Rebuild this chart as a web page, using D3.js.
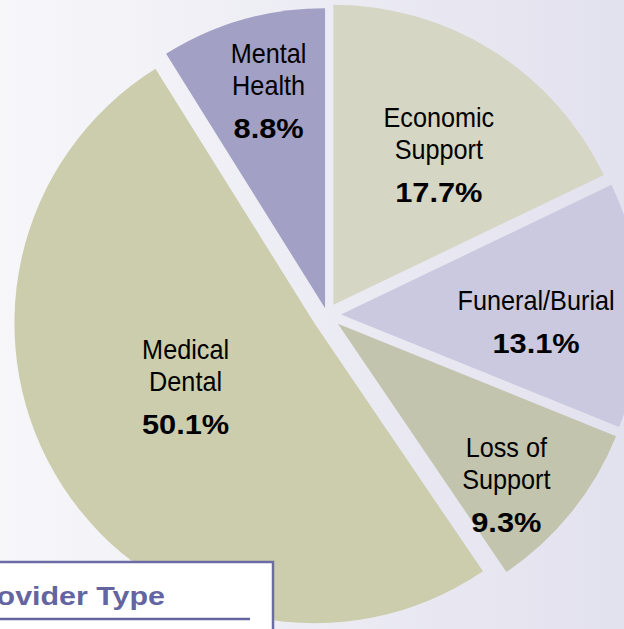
<!DOCTYPE html>
<html>
<head>
<meta charset="utf-8">
<script src="https://cdn.jsdelivr.net/npm/d3@7"></script>
<style>
  html, body { margin: 0; padding: 0; overflow: hidden; }
  svg { display: block; }
  text { font-family: "Liberation Sans", Arial, sans-serif; }
</style>
</head>
<body>
<div id="chart"></div>
<script>
// data
var categories = ["Economic Support", "Funeral/Burial", "Loss of Support", "Medical Dental", "Mental Health"];
var labelLines = [["Economic", "Support"], ["Funeral/Burial"], ["Loss of", "Support"], ["Medical", "Dental"], ["Mental", "Health"]];
var percents = [17.7, 13.1, 9.3, 50.1, 8.8];
var colors = ["#d5d6c3", "#cbc9df", "#c2c4ad", "#cccdac", "#a2a0c5"];
var boxTitle = "Provider Type";

var width = 624, height = 629;
var cx = 327, cy = 315, radius = 300;

// per slice: explode distance, label polar position (deg, px from centre)
var layout = {
    "Economic Support": { explode: 12, la: 44, lr: 161 },
    "Funeral/Burial": { explode: 14, la: 99.5, lr: 212 },
    "Loss of Support": { explode: 14, la: 140, lr: 279 },
    "Medical Dental": { explode: 15, la: 230.6, lr: 183 },
    "Mental Health": { explode: 7, la: 342, lr: 189 }
};

var svg = d3.select("#chart").append("svg")
    .attr("width", width)
    .attr("height", height);

var grad = svg.append("defs").append("linearGradient")
    .attr("id", "bg").attr("x1", "0").attr("x2", "1").attr("y1", "0").attr("y2", "0");
grad.append("stop").attr("offset", "0").attr("stop-color", "#f7f7fa");
grad.append("stop").attr("offset", "1").attr("stop-color", "#e2e1ee");

svg.append("rect")
    .attr("width", width).attr("height", height)
    .attr("fill", "url(#bg)");

var data = categories.map(function(c, i) {
    return { key: c, lines: labelLines[i], value: percents[i], color: colors[i] };
});

var pie = d3.pie()
    .sort(null)
    .value(function(d) { return d.value; });

var arc = d3.arc()
    .innerRadius(0)
    .outerRadius(radius);

var arcs = pie(data);

var g = svg.append("g")
    .attr("transform", "translate(" + cx + "," + cy + ")");

g.selectAll("path.slice")
    .data(arcs).enter()
    .append("path")
    .attr("class", "slice")
    .attr("fill", function(d) { return d.data.color; })
    .attr("d", arc)
    .attr("transform", function(d) {
        var mid = (d.startAngle + d.endAngle) / 2;
        var e = layout[d.data.key].explode;
        return "translate(" + (Math.sin(mid) * e) + "," + (-Math.cos(mid) * e) + ")";
    });

// labels
var labels = g.selectAll("g.label")
    .data(arcs).enter()
    .append("g")
    .attr("class", "label")
    .attr("transform", function(d) {
        var l = layout[d.data.key];
        var a = l.la * Math.PI / 180;
        return "translate(" + (Math.sin(a) * l.lr) + "," + (-Math.cos(a) * l.lr + 3) + ")";
    });

labels.each(function(d) {
    var el = d3.select(this);
    var n = d.data.lines.length;
    d.data.lines.forEach(function(line, i) {
        el.append("text")
            .attr("transform", "translate(0," + (-43 - (n - 1 - i) * 32) + ") scale(0.935,1)")
            .attr("text-anchor", "middle")
            .attr("font-size", 27)
            .attr("fill", "#000")
            .text(line);
    });
    el.append("text")
        .attr("transform", "scale(1.1,1)")
        .attr("text-anchor", "middle")
        .attr("font-weight", "bold")
        .attr("font-size", 28)
        .attr("fill", "#000")
        .text(d3.format(".1f")(d.data.value) + "%");
});

// partly hidden title box
var box = svg.append("g");
box.append("rect")
    .attr("x", -10).attr("y", 562)
    .attr("width", 283).attr("height", 100)
    .attr("fill", "#fff")
    .attr("stroke", "#6b6ba6")
    .attr("stroke-width", 2.5);
box.append("text")
    .attr("transform", "translate(165,605) scale(1.17,1)")
    .attr("text-anchor", "end")
    .attr("font-weight", "bold")
    .attr("font-size", 26)
    .attr("fill", "#6464a0")
    .text(boxTitle);
box.append("line")
    .attr("x1", -5).attr("x2", 250)
    .attr("y1", 619).attr("y2", 619)
    .attr("stroke", "#6464a0")
    .attr("stroke-width", 2.5);
</script>
</body>
</html>
